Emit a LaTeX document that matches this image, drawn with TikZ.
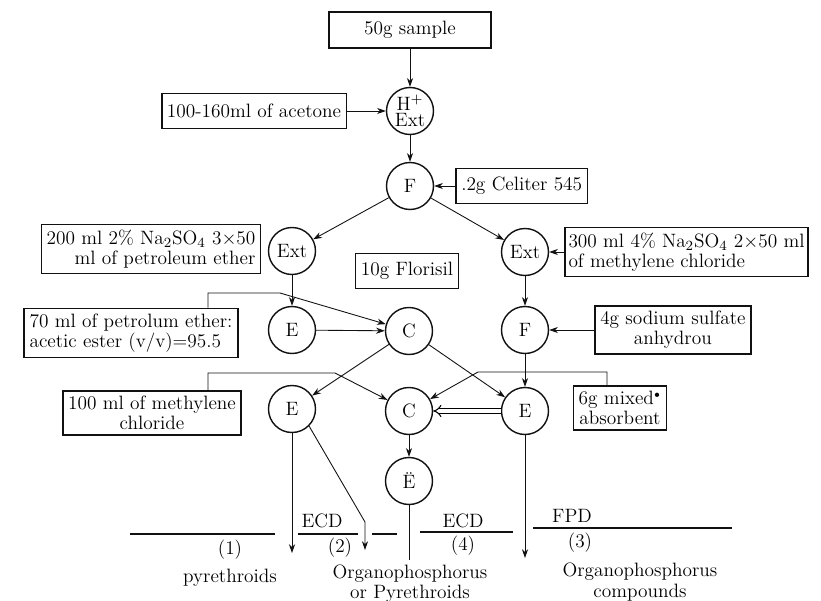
\documentclass[tikz,border=0pt]{standalone}
\usetikzlibrary{positioning, arrows.meta}

\begin{document}
\begin{tikzpicture}[
    x=0.02cm, y=-0.02cm,
    node distance=0.4cm,
    font=\fontsize{11}{11.5}\selectfont,
    >={Stealth[length=5pt, width=3.5pt]},
    box/.style={
        rectangle,
        draw=ink_color,
        line width=0.9pt,
        align=center,
        inner xsep=3pt,
        inner ysep=3pt,
        minimum height=0.7cm
    },
    stage/.style={
        circle,
        draw=ink_color,
        line width=0.8pt,
        minimum size=0.94cm,
        inner sep=0pt,
        align=center
    },
    arrow/.style={
        ->,
        line width=0.5pt,
        draw=ink_color
    },
    line/.style={
        line width=0.5pt,
        draw=ink_color
    },
    divider/.style={
        line width=0.7pt,
        draw=ink_color
    }
]

% Colors
\definecolor{ink_color}{HTML}{111111}

\useasboundingbox (0,0) rectangle (821,601);

% Sample and extraction
\node[box, minimum width=3.24cm, minimum height=0.72cm] (sample) at (410,30) {50g sample};
\node[stage] (hext) at (410,111) {H$^{+}$\\[-2pt]Ext};
\node[box] (acetone) at (254,111) {100-160ml of acetone};

% Filtration
\node[stage] (f1) at (410,186) {F};
\node[box, right=0.42cm of f1] (celite) {.2g Celiter 545};

% Partition
\node[stage] (ext1) at (292,251) {Ext};
\node[stage] (ext2) at (525,252) {Ext};
\node[box, align=right] (petro) at (151,249) {200 ml 2\% Na$_2$SO$_4$ 3$\times$50\\ml of petroleum ether};
\node[box, align=left, inner xsep=2pt, right=0.3cm of ext2] (methyl) {300 ml 4\% Na$_2$SO$_4$ 2$\times$50 ml\\of methylene chloride};
\node[box] (florisil) at (407,271) {10g Florisil};

% First column
\node[stage] (e1) at (292,330) {E};
\node[stage] (c1) at (409,331) {C};
\node[stage] (f2) at (525,330) {F};
\node[box, align=left] (eluent1) at (131,333) {70 ml of petrolum ether:\\acetic ester (v/v)=95.5};
\node[box, right=0.9cm of f2] (sulfate) {4g sodium sulfate\\anhydrou};

% Second column
\node[stage] (e2) at (292,409) {E};
\node[stage] (c2) at (409,411) {C};
\node[stage] (e3) at (525,411) {E};
\node[stage] (e4) at (409,481) {\"E};
\node[box] (eluent2) at (152,413) {100 ml of methylene\\chloride};
\node[box] (mixed) at (620,408) {6g mixed$^{\scriptscriptstyle\bullet}$\\absorbent};

% Detectors and results
\node (lab1) at (230,550) {(1)};
\node (pyr) at (230,578) {pyrethroids};
\node (ecd1) at (322,521) {ECD};
\node (lab2) at (340,548) {(2)};
\node[align=center] (org1) at (410,584) {Organophosphorus\\or Pyrethroids};
\node (ecd2) at (463,521) {ECD};
\node (lab4) at (463,546) {(4)};
\node (fpd) at (572,516) {FPD};
\node (lab3) at (580,543) {(3)};
\node[align=center] (org2) at (640,582) {Organophosphorus\\compounds};

\draw[divider] (130,534) -- (275,534);
\draw[divider] (298,534) -- (358,534);
\draw[divider] (372,534) -- (397,534);
\draw[divider] (420,532) -- (513,532);
\draw[divider] (533,528) -- (732,528);

% Bends and free ends
\coordinate (k1) at (208,293);
\coordinate (k2) at (280,293);
\coordinate (k3) at (208,373);
\coordinate (k4) at (335,373);
\coordinate (k5) at (607,372);
\coordinate (k6) at (478,372);
\coordinate (bend2) at (365,522);
\coordinate (out1) at (290,553);
\coordinate (out2) at (365,550);
\coordinate (out4) at (410,560);
\coordinate (out3) at (524,558);

% Arrows
\draw[arrow] (sample) -- (hext);
\draw[arrow] (acetone) -- (hext);
\draw[arrow] (hext) -- (f1);
\draw[arrow] (celite) -- (f1);
\draw[arrow] (f1) -- (ext1);
\draw[arrow] (f1) -- (ext2);
\draw[arrow] (methyl) -- (ext2);
\draw[arrow] (ext1) -- (e1);
\draw[arrow] (ext2) -- (f2);
\draw[arrow] (e1) -- (c1);
\draw[arrow] (sulfate) -- (f2);
\draw[arrow] (c1) -- (e2);
\draw[arrow] (c1) -- (e3);
\draw[arrow] (f2) -- (e3);
\draw[arrow] (c2) -- (e4);
\draw[double, double distance=1.8pt, line width=0.6pt, -{Implies}] (e3) -- (c2);

% Eluent feeds
\draw[arrow] (k1 |- eluent1.north) -- (k1) -- (k2) -- (c1);
\draw[arrow] (k3 |- eluent2.north) -- (k3) -- (k4) -- (c2);
\draw[arrow] (k5 |- mixed.north) -- (k5) -- (k6) -- (c2);

% Outputs
\draw[arrow] (e2.south) -- (e2.south |- out1);
\draw[arrow] (e2.south east) -- (bend2) -- (out2);
\draw[line] (e4.south) -- (e4.south |- out4);
\draw[arrow] (e3.south) -- (e3.south |- out3);

\end{tikzpicture}
\end{document}
